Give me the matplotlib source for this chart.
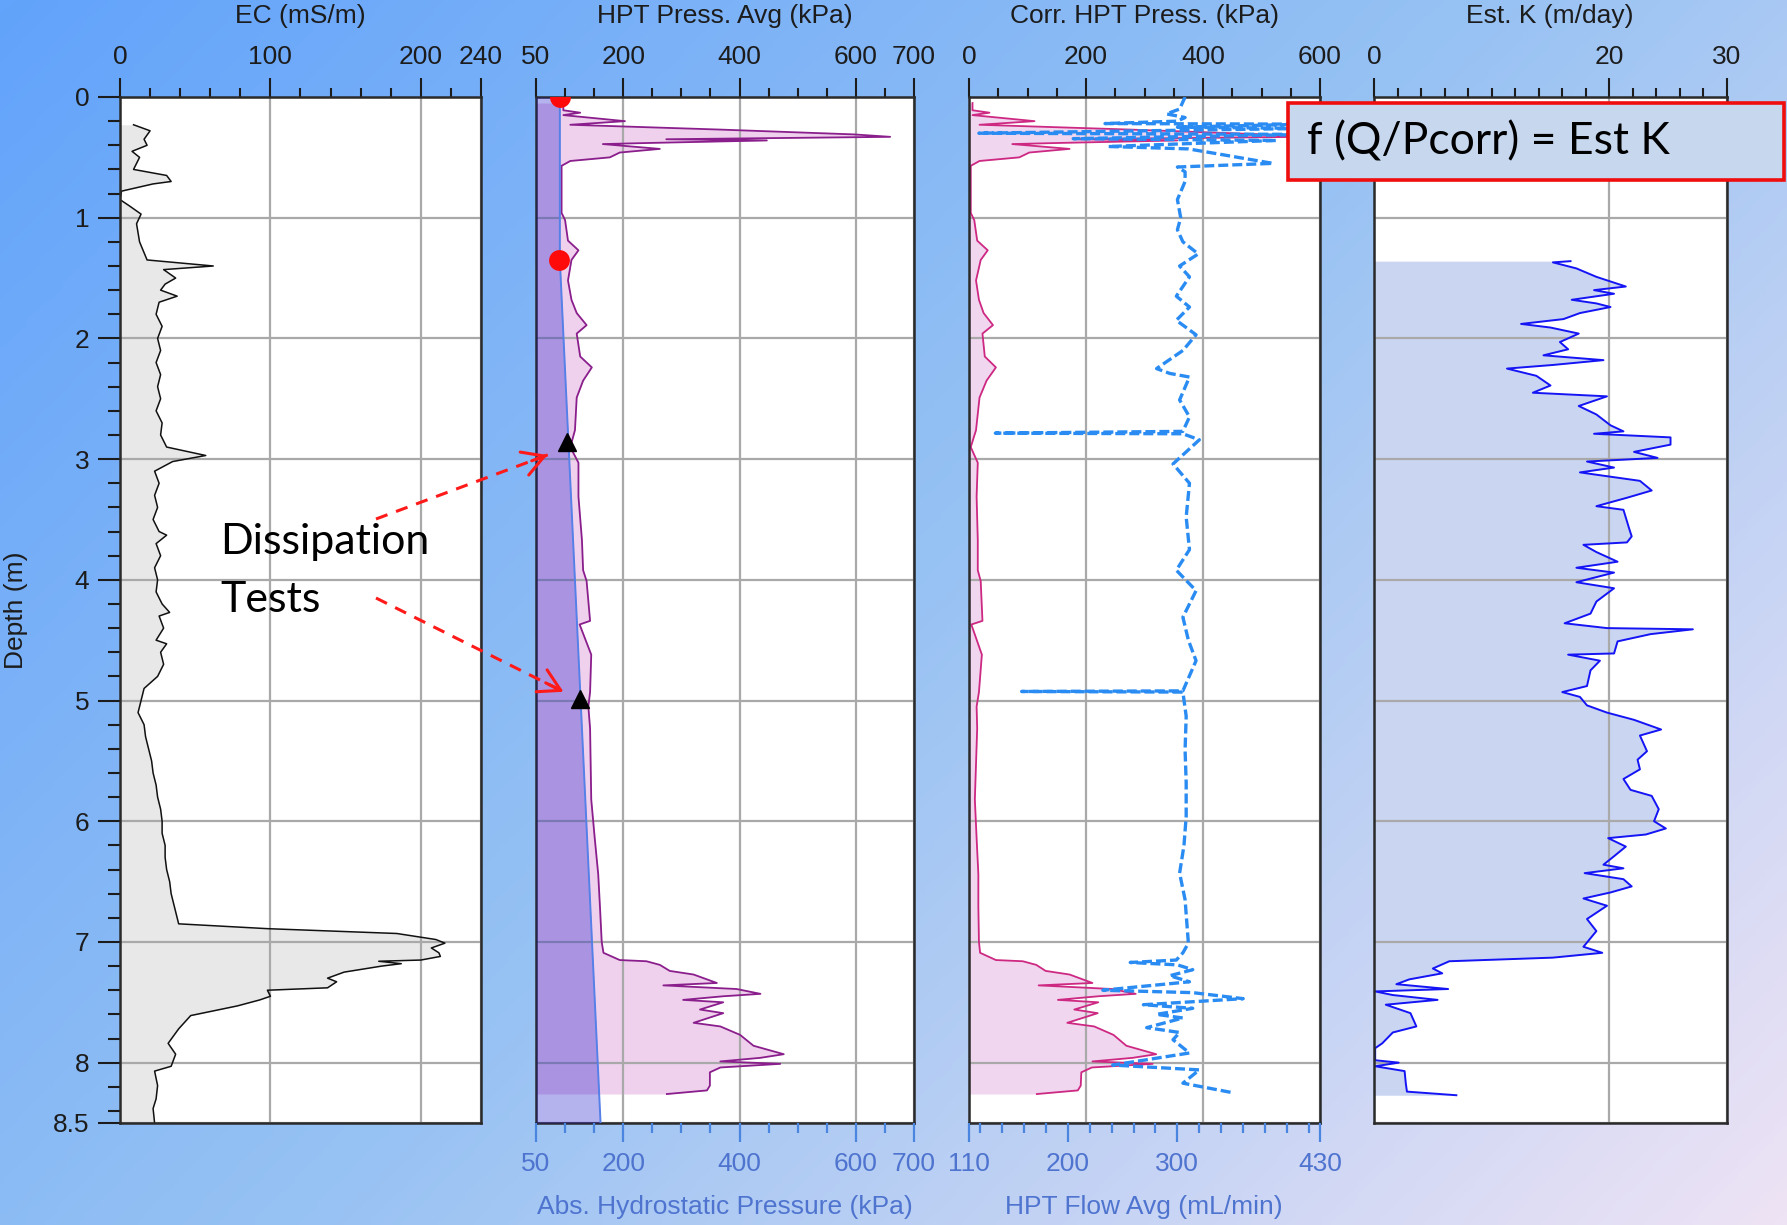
import numpy as np
import matplotlib
matplotlib.use('Agg')
import matplotlib.pyplot as plt
from matplotlib.colors import LinearSegmentedColormap
from matplotlib.patches import FancyArrowPatch, Rectangle
from matplotlib.lines import Line2D
from matplotlib.ticker import MultipleLocator, FuncFormatter

plt.rcParams['font.family'] = ['Liberation Sans', 'DejaVu Sans']

ec_depth = [0.23, 0.28, 0.35, 0.40, 0.45, 0.50, 0.60, 0.65, 0.70, 0.72, 0.78, 0.85, 0.90,
            0.97, 1.05, 1.20, 1.35, 1.40, 1.43, 1.50, 1.55, 1.60, 1.65, 1.70, 1.80, 1.90,
            2.00, 2.10, 2.20, 2.30, 2.40, 2.50, 2.60, 2.70, 2.80, 2.90, 2.97, 3.02, 3.10,
            3.20, 3.30, 3.40, 3.50, 3.60, 3.63, 3.70, 3.80, 3.90, 4.00, 4.10, 4.20, 4.27,
            4.30, 4.40, 4.50, 4.53, 4.60, 4.70, 4.80, 4.90, 5.00, 5.10, 5.20, 5.30, 5.40,
            5.50, 5.60, 5.70, 5.80, 5.90, 6.00, 6.10, 6.20, 6.30, 6.40, 6.50, 6.60, 6.70,
            6.80, 6.85, 6.89, 6.93, 6.98, 7.01, 7.05, 7.09, 7.12, 7.15, 7.16, 7.18, 7.20,
            7.25, 7.30, 7.33, 7.38, 7.40, 7.45, 7.48, 7.53, 7.61, 7.72, 7.84, 7.93, 8.03,
            8.07, 8.19, 8.30, 8.38, 8.50]
ec_val = [9, 20, 16, 18, 8, 13, 9, 31, 34, 22, 1, 0, 6,
          14, 11, 13, 18, 62, 29, 37, 30, 27, 38, 26, 24, 28,
          25, 27, 24, 27, 25, 27, 24, 28, 27, 31, 57, 35, 23,
          26, 23, 25, 22, 26, 31, 24, 27, 23, 25, 24, 28, 33,
          26, 29, 24, 31, 27, 29, 25, 16, 14, 12, 16, 17, 19,
          21, 22, 24, 25, 27, 28, 28, 30, 30, 31, 33, 34, 36,
          38, 39, 98, 184, 210, 216, 207, 212, 213, 200, 172, 187, 174,
          149, 138, 144, 138, 98, 100, 93, 78, 47, 39, 32, 37, 34,
          23, 25, 24, 22, 23]

hpt_depth = [0.05, 0.11, 0.13, 0.15, 0.20, 0.23, 0.27, 0.31, 0.33, 0.35, 0.36, 0.38, 0.39,
             0.43, 0.46, 0.50, 0.53, 0.57, 0.69, 0.96, 1.02, 1.19, 1.27, 1.35, 1.52, 1.68,
             1.79, 1.89, 1.96, 2.15, 2.24, 2.35, 2.49, 2.76, 2.90, 3.03, 3.31, 3.67, 3.92,
             4.01, 4.34, 4.37, 4.62, 4.93, 5.05, 5.23, 5.82, 6.14, 6.44, 6.71, 7.00, 7.09,
             7.15, 7.16, 7.19, 7.24, 7.27, 7.34, 7.36, 7.39, 7.43, 7.45, 7.48, 7.50, 7.56,
             7.59, 7.67, 7.70, 7.77, 7.86, 7.93, 7.96, 7.99, 8.01, 8.04, 8.08, 8.19, 8.23,
             8.26]
hpt_press = [97, 97, 126, 97, 203, 109, 367, 597, 659, 274, 447, 251, 165,
             263, 194, 177, 109, 94, 94, 94, 100, 105, 123, 111, 105, 111,
             120, 137, 120, 126, 146, 131, 120, 117, 109, 123, 123, 129, 131,
             137, 143, 125, 145, 143, 140, 143, 145, 151, 157, 160, 163, 166,
             194, 240, 263, 280, 321, 361, 269, 395, 436, 372, 303, 372, 332,
             372, 321, 367, 401, 424, 476, 436, 367, 470, 367, 349, 349, 344,
             275]
corr_press = [6, 6, 35, 6, 112, 18, 276, 506, 568, 183, 356, 160, 74,
              172, 103, 86, 18, 3, 3, 3, 9, 14, 32, 20, 12, 17,
              25, 41, 23, 27, 46, 30, 18, 12, 3, 15, 13, 15, 15,
              20, 23, 4, 22, 17, 13, 14, 10, 13, 16, 16, 17, 19,
              46, 92, 115, 131, 172, 211, 119, 245, 285, 221, 152, 221, 180,
              220, 168, 214, 247, 269, 320, 280, 211, 314, 210, 192, 191, 186,
              116]

hydro_depth = [0.0, 1.35, 8.5]
hydro_press = [91, 91, 161]

dot_depth = [0.0, 1.35]
dot_press = [91, 89]
diss_depth = [2.86, 4.99]
diss_press = [104, 126]

flow_depth = [0.00, 0.10, 0.14, 0.17, 0.20, 0.22, 0.225, 0.25, 0.26, 0.30, 0.31, 0.345,
              0.36, 0.41, 0.43, 0.47, 0.55, 0.58, 0.62, 0.70, 0.85, 1.00, 1.10, 1.20,
              1.30, 1.40, 1.49, 1.65, 1.74, 1.85, 1.97, 2.10, 2.25, 2.29, 2.32, 2.51,
              2.65, 2.77, 2.785, 2.79, 2.84, 3.04, 3.20, 3.48, 3.75, 3.92, 4.09, 4.31,
              4.50, 4.67, 4.92, 4.925, 4.93, 5.13, 5.41, 5.68, 5.96, 6.20, 6.43, 6.65,
              7.01, 7.09, 7.15, 7.17, 7.19, 7.23, 7.28, 7.33, 7.40, 7.42, 7.47, 7.52,
              7.55, 7.60, 7.63, 7.71, 7.75, 7.81, 7.92, 8.02, 8.06, 8.17, 8.25]
flow_val = [307, 302, 290, 307, 300, 234, 420, 300, 420, 119, 420, 205,
            390, 237, 310, 336, 387, 300, 307, 307, 300, 303, 300, 305,
            319, 302, 311, 299, 311, 299, 317, 305, 281, 293, 311, 302,
            311, 305, 134, 305, 320, 296, 311, 308, 311, 299, 317, 305,
            310, 317, 305, 158, 305, 308, 307, 308, 308, 306, 302, 307,
            310, 305, 299, 257, 300, 314, 293, 311, 232, 314, 360, 269,
            314, 281, 305, 272, 302, 296, 311, 241, 320, 305, 351]

k_depth = [1.36, 1.37, 1.42, 1.49, 1.57, 1.60, 1.63, 1.68, 1.71, 1.74, 1.79, 1.84, 1.88,
           1.91, 1.96, 2.03, 2.09, 2.14, 2.18, 2.22, 2.25, 2.31, 2.39, 2.45, 2.48, 2.56,
           2.63, 2.72, 2.77, 2.79, 2.82, 2.88, 2.94, 2.99, 3.02, 3.07, 3.11, 3.18, 3.26,
           3.32, 3.39, 3.42, 3.58, 3.64, 3.69, 3.71, 3.77, 3.85, 3.90, 3.94, 4.02, 4.07,
           4.18, 4.28, 4.36, 4.40, 4.41, 4.45, 4.51, 4.61, 4.62, 4.67, 4.75, 4.88, 4.93,
           4.97, 5.04, 5.10, 5.16, 5.24, 5.29, 5.42, 5.49, 5.57, 5.65, 5.74, 5.79, 5.90,
           6.00, 6.06, 6.11, 6.14, 6.21, 6.29, 6.36, 6.39, 6.43, 6.48, 6.54, 6.59, 6.64,
           6.70, 6.81, 6.91, 7.04, 7.09, 7.13, 7.16, 7.22, 7.26, 7.31, 7.35, 7.39, 7.41,
           7.44, 7.48, 7.52, 7.59, 7.70, 7.75, 7.84, 7.88, 7.98, 8.00, 8.03, 8.07, 8.17,
           8.24, 8.27]
k_val = [16.7, 15.2, 17.2, 18.9, 21.4, 18.7, 20.4, 16.8, 18.9, 20.1, 17.5, 16.1, 12.5,
         15.0, 17.4, 15.8, 16.5, 14.4, 19.5, 15.2, 11.3, 13.8, 15.0, 13.5, 19.8, 17.4,
         18.9, 20.1, 21.2, 18.7, 25.2, 25.2, 22.1, 24.1, 18.1, 20.4, 17.5, 22.6, 23.6,
         21.5, 18.9, 21.2, 21.7, 21.9, 21.5, 17.8, 18.9, 20.7, 17.2, 20.4, 17.2, 20.4,
         18.9, 18.4, 16.2, 19.8, 27.1, 23.5, 20.7, 20.4, 16.5, 19.2, 18.4, 18.1, 16.0,
         17.5, 18.1, 19.8, 22.1, 24.4, 22.6, 23.2, 22.4, 22.6, 21.2, 21.8, 23.6, 24.2,
         23.8, 24.8, 23.1, 19.9, 21.4, 20.4, 19.5, 21.2, 17.9, 21.2, 21.9, 20.1, 17.8,
         19.8, 18.1, 18.9, 17.8, 19.4, 15.2, 6.4, 5.0, 5.8, 3.0, 1.9, 6.3, 0.1,
         1.6, 5.4, 1.0, 3.1, 3.6, 1.6, 0.7, 0.1, 0.1, 2.1, 0.1, 2.6, 2.7,
         2.8, 7.0]

# ---- figure -----------------------------------------------------------------
W, H = 1787, 1225
fig = plt.figure(figsize=(W / 100, H / 100), dpi=100)


def fx(px):
    return px / W


def fy(py):
    return 1 - py / H


# gradient background
bg = fig.add_axes([0, 0, 1, 1], zorder=-10)
xx, yy = np.meshgrid(np.linspace(0, 1, 400), np.linspace(0, 1, 300))
cmap_bg = LinearSegmentedColormap.from_list('bg', ['#62a3fb', '#97c2f3', '#eee3f5'])
bg.imshow(0.6 * xx + 0.4 * yy, cmap=cmap_bg, aspect='auto', extent=[0, 1, 0, 1],
          origin='upper', vmin=0, vmax=1)
bg.axis('off')

TOP, BOT = 97, 1123


def panel(x0, x1):
    return fig.add_axes([fx(x0), fy(BOT), (x1 - x0) / W, (BOT - TOP) / H])


ax_ec = panel(120, 481)
ax_hpt = panel(536, 914)
ax_cor = panel(969, 1320)
ax_k = panel(1374, 1727)

ax_hyd = ax_hpt.twiny()
ax_flow = ax_cor.twiny()

INK = '#1c1c1c'
BLUE_TXT = '#4f74cf'
BLUE_TICK = '#4a86e0'


def style(ax, xlim, major, minor, ylab=False):
    ax.set_xlim(*xlim)
    ax.set_ylim(8.5, 0)
    ax.xaxis.tick_top()
    ax.set_xticks(major)
    ax.xaxis.set_minor_locator(MultipleLocator(minor))
    ax.set_yticks(list(range(9)) + [8.5])
    ax.yaxis.set_major_formatter(FuncFormatter(lambda v, p: f'{v:g}'))
    ax.yaxis.set_minor_locator(MultipleLocator(0.2))
    ax.tick_params(axis='x', which='major', length=14, width=1.5, pad=6,
                   labelsize=19, colors=INK)
    ax.tick_params(axis='x', which='minor', length=6.5, width=1.5, colors=INK)
    if ylab:
        ax.tick_params(axis='y', which='major', length=16, width=1.5, pad=6,
                       labelsize=19, colors=INK)
        ax.tick_params(axis='y', which='minor', length=9, width=1.5, colors=INK)
    else:
        ax.tick_params(axis='y', which='both', left=False, labelleft=False)
    for s in ax.spines.values():
        s.set_linewidth(1.8)
        s.set_color('#2a2a2a')
    ax.grid(True, which='major', color='#a9a9a9', lw=1.6)


def style_bottom(ax, xlim, major, minor):
    ax.set_xlim(*xlim)
    ax.xaxis.tick_bottom()
    ax.set_xticks(major)
    ax.set_xticks(minor, minor=True)
    ax.tick_params(axis='x', which='major', length=14, width=1.6, pad=7,
                   labelsize=19, color=BLUE_TICK, labelcolor=BLUE_TXT)
    ax.tick_params(axis='x', which='minor', length=7.5, width=1.6, color=BLUE_TICK)
    for s in ax.spines.values():
        s.set_visible(False)
    ax.grid(False)


style(ax_ec, (0, 240), [0, 100, 200, 240], 20, ylab=True)
style(ax_hpt, (50, 700), [50, 200, 400, 600, 700], 50)
style(ax_cor, (0, 600), [0, 200, 400, 600], 50)
style(ax_k, (0, 30), [0, 20, 30], 2)
style_bottom(ax_hyd, (50, 700), [50, 200, 400, 600, 700], list(range(100, 700, 50)))
style_bottom(ax_flow, (110, 430), [110, 200, 300, 430], list(range(120, 430, 20)))

# EC
ax_ec.fill_betweenx(ec_depth, 0, ec_val, color='#d2d2d2', alpha=0.5, lw=0)
ax_ec.plot(ec_val, ec_depth, color='#111111', lw=1.1)

# HPT pressure + hydrostatic
ax_hpt.fill_betweenx(hpt_depth, 50, hpt_press, color='#e1a5dd', alpha=0.5, lw=0)
ax_hpt.plot(hpt_press, hpt_depth, color='#8a1e8c', lw=1.3)
ax_hyd.fill_betweenx(hydro_depth, 50, hydro_press, color='#1b14cd', alpha=0.32, lw=0)
ax_hyd.plot(hydro_press, hydro_depth, color='#5580e8', lw=1.4)
ax_hyd.plot(dot_press, dot_depth, 'o', color='#ff0a0a', ms=15, mec='none', zorder=5)
ax_hyd.plot(diss_press, diss_depth, '^', color='black', ms=13, zorder=5)
ax_hyd.set_ylim(8.5, 0)

# Corrected pressure + flow
ax_cor.fill_betweenx(hpt_depth, 0, corr_press, color='#e1a5dd', alpha=0.45, lw=0)
ax_cor.plot(corr_press, hpt_depth, color='#cd2882', lw=1.3)
ax_flow.plot(flow_val, flow_depth, color='#2a8cf2', lw=2.4, ls=(0, (3, 1.2)))
ax_flow.set_ylim(8.5, 0)

# Estimated K
ax_k.fill_betweenx(k_depth, 0, k_val, color='#97ade7', alpha=0.5, lw=0)
ax_k.plot(k_val, k_depth, color='#1414f5', lw=1.4)

# titles and axis labels
for cx, txt in [(300, 'EC (mS/m)'), (725, 'HPT Press. Avg (kPa)'),
                (1144, 'Corr. HPT Press. (kPa)'), (1550, 'Est. K (m/day)')]:
    fig.text(fx(cx), fy(16), txt, ha='center', va='center', fontsize=19, color=INK)
fig.text(fx(725), fy(1207), 'Abs. Hydrostatic Pressure (kPa)', ha='center',
         va='center', fontsize=19, color=BLUE_TXT)
fig.text(fx(1144), fy(1207), 'HPT Flow Avg (mL/min)', ha='center', va='center',
         fontsize=19, color=BLUE_TXT)
fig.text(fx(16), fy(610), 'Depth (m)', rotation=90, ha='center', va='center',
         fontsize=19, color=INK)

# dissipation test call-out
fig.text(fx(220), fy(542), 'Dissipation', ha='left', va='center', fontsize=31,
         family=['Lato', 'DejaVu Sans'], color='black')
fig.text(fx(220), fy(600), 'Tests', ha='left', va='center', fontsize=31,
         family=['Lato', 'DejaVu Sans'], color='black')
for (x0, y0), (x1, y1) in [((376, 519), (550, 454)), ((376, 598), (566, 693))]:
    fig.add_artist(Line2D([fx(x0), fx(x1)], [fy(y0), fy(y1)], color='#ff1a1a',
                          lw=2.2, ls=(0, (4, 3)), zorder=15))
    fig.add_artist(FancyArrowPatch((fx(x1 - (x1 - x0) * 0.12), fy(y1 - (y1 - y0) * 0.12)),
                                   (fx(x1), fy(y1)), transform=fig.transFigure,
                                   arrowstyle='->,head_length=0.7,head_width=0.4',
                                   mutation_scale=22, color='#ff1a1a', lw=2.2,
                                   zorder=16))

# formula box
fig.add_artist(Rectangle((fx(1288), fy(180)), (1784 - 1288) / W, (180 - 103) / H,
                         transform=fig.transFigure, facecolor='#c6d7ee',
                         edgecolor='#f00d0d', lw=2.6, zorder=20))
fig.text(fx(1307), fy(142), 'f (Q/Pcorr) = Est K', ha='left', va='center',
         fontsize=32, family=['Lato', 'DejaVu Sans'], color='black', zorder=21)

fig.savefig('out.png', dpi=100)
